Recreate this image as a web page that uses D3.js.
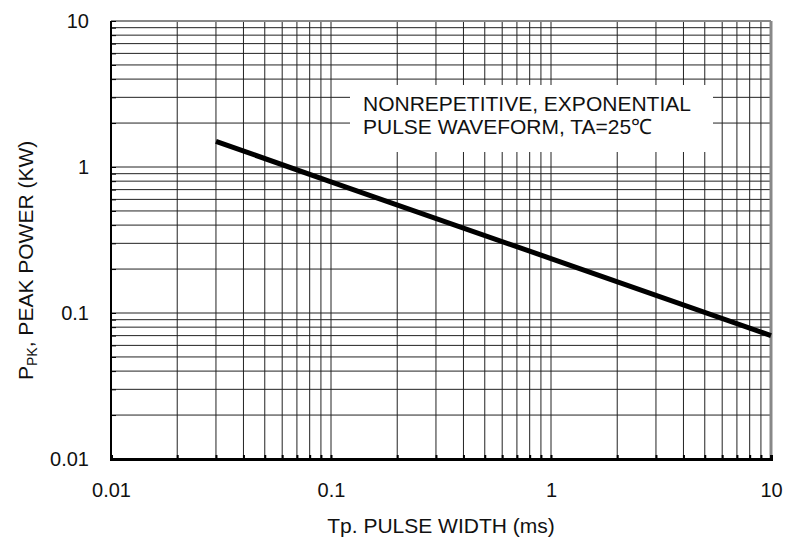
<!DOCTYPE html>
<html>
<head>
<meta charset="utf-8">
<script src="https://cdn.jsdelivr.net/npm/d3@7"></script>
<style>
  body { margin: 0; background: #fff; }
  text { font-family: "Liberation Sans", Arial, sans-serif; fill: #111; }
</style>
</head>
<body>
<div id="chart"></div>
<script>
// Data
var xDomain = [0.01, 10];
var yDomain = [0.01, 10];
var decades = [0.01, 0.1, 1, 10];
var xTickLabels = ["0.01", "0.1", "1", "10"];
var yTickLabels = ["0.01", "0.1", "1", "10"];
var pulseWidth = [0.03, 0.1, 1, 10];      // ms
var peakPower = [1.5, 0.79, 0.236, 0.07];  // kW
var noteLines = ["NONREPETITIVE, EXPONENTIAL", "PULSE WAVEFORM, TA=25\u2103"];

var width = 785, height = 540;
var margin = {top: 21, bottom: 81, left: 111, right: 14};
var plotW = width - margin.left - margin.right;
var plotH = height - margin.top - margin.bottom;

var svg = d3.select('#chart').append('svg')
    .attr('width', width)
    .attr('height', height);

var g = svg.append('g')
    .attr('transform', `translate(${margin.left},${margin.top})`);

// Scales setup
var xScale = d3.scaleLog().domain(xDomain).range([0, plotW]);
var yScale = d3.scaleLog().domain(yDomain).range([plotH, 0]);

var xGrid = xScale.ticks();
var yGrid = yScale.ticks();

function decadeLabel(labels) {
    return function(d) {
        var i = decades.findIndex(v => Math.abs(v - d) < v * 1e-6);
        return i >= 0 ? labels[i] : '';
    };
}

// Grid lines
g.append('g').selectAll('line').data(xGrid).enter().append('line')
    .attr('x1', d => xScale(d)).attr('x2', d => xScale(d))
    .attr('y1', 0).attr('y2', plotH)
    .attr('stroke', '#222').attr('stroke-width', 1);

g.append('g').selectAll('line').data(yGrid).enter().append('line')
    .attr('x1', 0).attr('x2', plotW)
    .attr('y1', d => yScale(d)).attr('y2', d => yScale(d))
    .attr('stroke', '#222').attr('stroke-width', 1);

// White box behind the note
g.append('rect')
    .attr('x', 350 - margin.left).attr('y', 85 - margin.top)
    .attr('width', 713 - 350).attr('height', 152 - 85)
    .attr('fill', '#fff');

var note = g.append('text')
    .attr('y', 111 - margin.top)
    .style('font-size', '21px');
note.selectAll('tspan').data(noteLines).enter().append('tspan')
    .attr('x', 363 - margin.left)
    .attr('dy', (d, i) => i === 0 ? 0 : 23)
    .text(d => d);

// Frame
g.append('line').attr('x1', 0).attr('x2', plotW).attr('y1', 0).attr('y2', 0)
    .attr('stroke', '#888').attr('stroke-width', 2);
g.append('line').attr('x1', plotW).attr('x2', plotW).attr('y1', 0).attr('y2', plotH)
    .attr('stroke', '#888').attr('stroke-width', 3);
g.append('line').attr('x1', 0).attr('x2', 0).attr('y1', 0).attr('y2', plotH)
    .attr('stroke', '#000').attr('stroke-width', 2);

// Axis setup
var xAxis = d3.axisBottom(xScale)
    .tickValues(xGrid)
    .tickSize(-4)
    .tickPadding(24)
    .tickFormat(decadeLabel(xTickLabels));
var gx = g.append('g').attr('transform', `translate(0,${plotH})`).call(xAxis);
gx.select('.domain').attr('stroke', '#000').attr('stroke-width', 3);
gx.selectAll('.tick line').attr('stroke', '#000').attr('stroke-width', 2);
gx.selectAll('text').style('font-size', '20px').attr('fill', '#111');

var yAxis = d3.axisLeft(yScale)
    .tickValues(yGrid)
    .tickSize(-5)
    .tickPadding(22)
    .tickFormat(decadeLabel(yTickLabels));
var gy = g.append('g').call(yAxis);
gy.select('.domain').remove();
gy.selectAll('.tick line').attr('stroke', '#000').attr('stroke-width', 1);
gy.selectAll('text').style('font-size', '20px').attr('fill', '#111');

// Curve
var lineGen = d3.line()
    .x((d, i) => xScale(pulseWidth[i]))
    .y(d => yScale(d));

g.append('path')
    .datum(peakPower)
    .attr('d', lineGen)
    .attr('fill', 'none')
    .attr('stroke', '#000')
    .attr('stroke-width', 5);

// Axis titles
svg.append('text')
    .attr('x', margin.left + plotW / 2)
    .attr('y', 533)
    .attr('text-anchor', 'middle')
    .style('font-size', '21px')
    .text('Tp. PULSE WIDTH (ms)');

var yt = svg.append('text')
    .attr('transform', 'translate(33,380) rotate(-90)')
    .attr('text-anchor', 'start')
    .style('font-size', '21px');
yt.append('tspan').text('P');
yt.append('tspan').attr('dy', 4).style('font-size', '14px').text('PK');
yt.append('tspan').attr('dy', -4).text(', PEAK POWER (KW)');
</script>
</body>
</html>
